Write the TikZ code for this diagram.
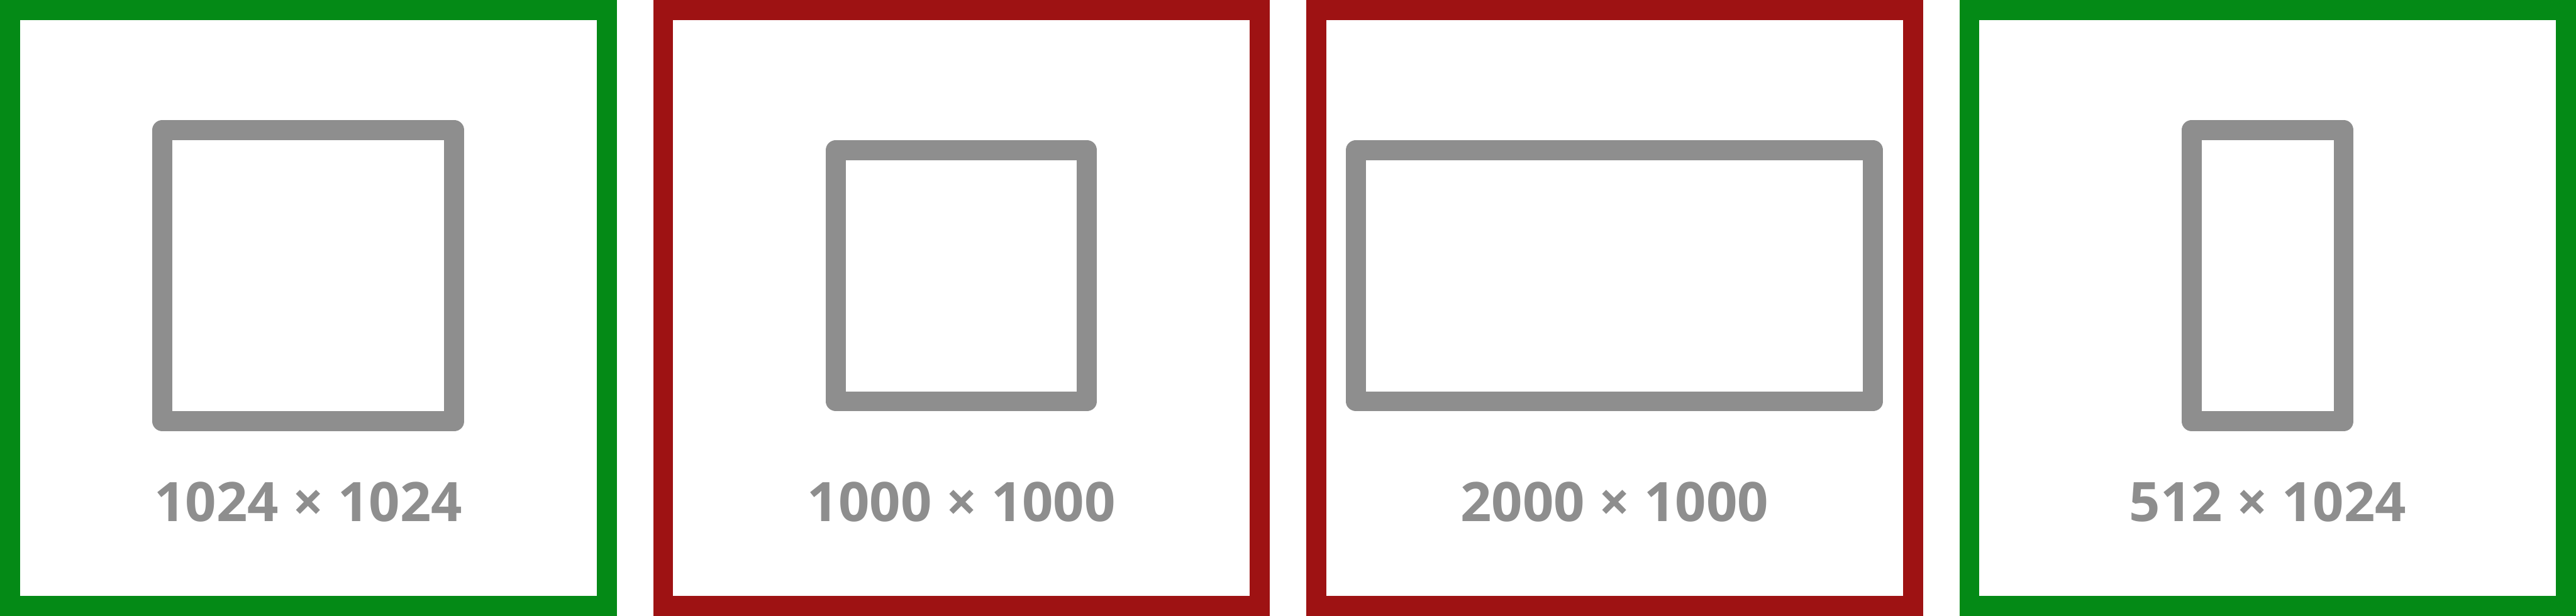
\documentclass[tikz,border=0pt]{standalone}
\usepackage{fontspec}
\setmainfont{Open Sans}
\usetikzlibrary{positioning}
\definecolor{cgreen}{HTML}{048A16}
\definecolor{cred}{HTML}{9E1213}
\definecolor{cgrey}{HTML}{8E8E8E}
\tikzset{
  every picture/.style={line width=0.33cm},
  frame/.style={draw=#1, fill=white, inner sep=0pt, minimum width=9.82cm, minimum height=9.81cm},
  frame/.default=cgreen,
  shapebox/.style={draw=cgrey, line join=round, inner sep=0pt},
  sizelabel/.style={anchor=base, text=cgrey, inner sep=0pt, font=\fontsize{25.5}{30}\selectfont\bfseries},
}

\begin{document}
\begin{tikzpicture}
  \useasboundingbox (0,0) rectangle (42.4,10.14);
  % one panel: frame, the image outline and its size
  \newcommand{\sizepanel}[6]{% #1 name, #2 x, #3 colour, #4 width, #5 height, #6 label
    \node[frame=#3] (#1) at (#2,5.07) {};
    \node[shapebox, minimum width=#4, minimum height=#5] (#1box) at ([yshift=5.3mm]#1.center) {};
    \node[sizelabel] (#1text) at ([yshift=-35.2mm]#1.center) {#6};
  }
  \sizepanel{square}{5.075}{cgreen}{4.80cm}{4.80cm}{1024 × 1024}
  \sizepanel{thousand}{15.825}{cred}{4.13cm}{4.14cm}{1000 × 1000}
  \sizepanel{wide}{26.575}{cred}{8.51cm}{4.14cm}{2000 × 1000}
  \sizepanel{tall}{37.325}{cgreen}{2.50cm}{4.80cm}{512 × 1024}
\end{tikzpicture}
\end{document}
